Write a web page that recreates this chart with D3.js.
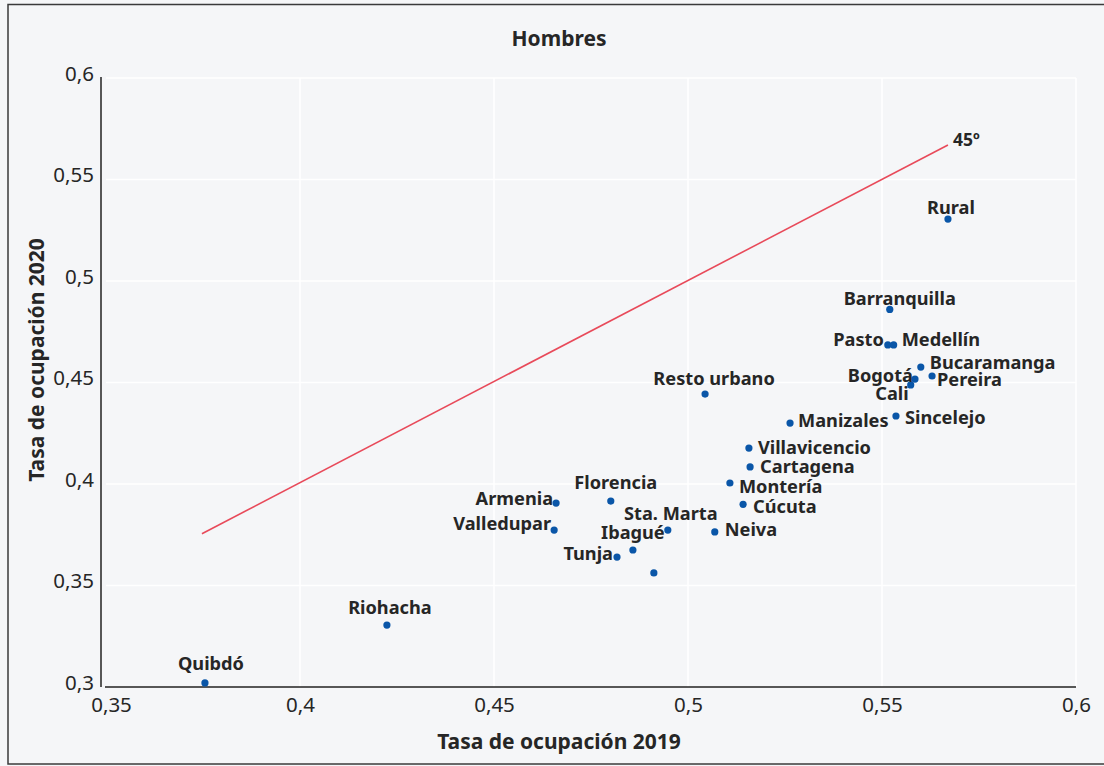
<!DOCTYPE html>
<html lang="es">
<head>
<meta charset="utf-8">
<script src="https://cdn.jsdelivr.net/npm/d3@7"></script>
<style>
  html, body { margin: 0; padding: 0; background: #f5f6f8; }
  svg { display: block; font-family: "Noto Sans", "Open Sans", sans-serif; }
</style>
</head>
<body>
<svg id="chart" width="1104" height="766"></svg>
<script>
// Ciudades y tasas de ocupación de hombres, 2019 vs 2020
const cities = ["Rural", "Barranquilla", "Pasto", "Medellín", "Bucaramanga", "Bogotá", "Cali",
  "Pereira", "Sincelejo", "Manizales", "Resto urbano", "Villavicencio", "Cartagena", "Montería",
  "Cúcuta", "Neiva", "Sta. Marta", "Ibagué", "Tunja", "", "Florencia", "Armenia", "Valledupar",
  "Riohacha", "Quibdó"];
const rate2019 = [0.567, 0.552, 0.5515, 0.553, 0.560, 0.5585, 0.5574,
  0.5629, 0.5536, 0.5263, 0.5044, 0.5157, 0.516, 0.5108,
  0.5142, 0.5069, 0.4948, 0.4858, 0.4817, 0.4912, 0.4801, 0.466, 0.4655,
  0.4224, 0.3755];
const rate2020 = [0.5305, 0.486, 0.4685, 0.4685, 0.4576, 0.4517, 0.4488,
  0.4532, 0.4335, 0.430, 0.4443, 0.4177, 0.4084, 0.4005,
  0.390, 0.3764, 0.3773, 0.3675, 0.364, 0.3562, 0.3916, 0.3906, 0.3773,
  0.3305, 0.302];

const xTicks = [0.35, 0.4, 0.45, 0.5, 0.55, 0.6];
const yTicks = [0.3, 0.35, 0.4, 0.45, 0.5, 0.55, 0.6];
const xTickLabels = ["0,35", "0,4", "0,45", "0,5", "0,55", "0,6"];
const yTickLabels = ["0,3", "0,35", "0,4", "0,45", "0,5", "0,55", "0,6"];

const titleText = "Hombres";
const xTitle = "Tasa de ocupación 2019";
const yTitle = "Tasa de ocupación 2020";
const diagonalLabel = "45º";

// Label placement per city: [anchor, dx, dy] relative to the marker
const labelLayout = [
  ["middle", 3, -12], ["middle", 10, -11], ["end", -4, -6], ["start", 8, -6],
  ["start", 9, -5], ["end", -2, -4], ["end", -2, 8], ["start", 5, 3],
  ["start", 9, 1], ["start", 8, -3], ["middle", 9, -16], ["start", 9, -1],
  ["start", 10, -1], ["start", 9, 3], ["start", 10, 2], ["start", 10, -3],
  ["middle", 3, -17], ["middle", 0, -18], ["end", -4, -4], ["start", 0, 0],
  ["middle", 5, -19], ["end", -3, -5], ["end", -3, -7], ["middle", 3, -18],
  ["middle", 6, -20]
];

const svg = d3.select("#chart");
const textColor = "#262626";

// Outer frame
svg.append("rect")
  .attr("x", 8).attr("y", 4.5).attr("width", 1110).attr("height", 759.5)
  .attr("fill", "#f5f6f8").attr("stroke", "#3a3a3a").attr("stroke-width", 1.5);

const x = d3.scaleLinear().domain([0.35, 0.6]).range([106, 1076]);
const y = d3.scaleLinear().domain([0.3, 0.6]).range([687, 78]);

// Gridlines
const grid = svg.append("g").attr("stroke", "#ffffff").attr("stroke-width", 1.6);
grid.selectAll("line.v").data(xTicks.slice(1)).join("line")
  .attr("x1", d => x(d)).attr("x2", d => x(d))
  .attr("y1", y(0.6)).attr("y2", y(0.3));
grid.selectAll("line.h").data(yTicks.slice(1)).join("line")
  .attr("x1", x(0.35)).attr("x2", x(0.6))
  .attr("y1", d => y(d)).attr("y2", d => y(d));

// Axes
const xAxis = d3.axisBottom(x).tickValues(xTicks)
  .tickFormat((d, i) => xTickLabels[i]).tickSize(0).tickPadding(10);
const gx = svg.append("g").attr("transform", `translate(0,${y(0.3)})`).call(xAxis);
gx.select(".domain").remove();
gx.selectAll("text").attr("font-size", 20.5).attr("fill", textColor)
  .attr("font-family", "'Noto Sans', 'Open Sans', sans-serif")
  .attr("dx", (d, i) => i === 0 ? 5 : 0);

const yAxis = d3.axisLeft(y).tickValues(yTicks)
  .tickFormat((d, i) => yTickLabels[i]).tickSize(0).tickPadding(8);
const gy = svg.append("g").attr("transform", `translate(${x(0.35) - 4},0)`).call(yAxis);
gy.select(".domain").remove();
gy.selectAll("text").attr("font-size", 20.5).attr("fill", textColor)
  .attr("font-family", "'Noto Sans', 'Open Sans', sans-serif")
  .attr("dy", "0.12em");

// Axis lines
svg.append("line")
  .attr("x1", x(0.35) - 1).attr("x2", x(0.6))
  .attr("y1", y(0.3)).attr("y2", y(0.3))
  .attr("stroke", "#222").attr("stroke-width", 1.5);
svg.append("line")
  .attr("x1", x(0.35) - 5).attr("x2", x(0.35) - 5)
  .attr("y1", y(0.6) - 1).attr("y2", y(0.3))
  .attr("stroke", "#222").attr("stroke-width", 1.5);

// 45-degree reference line spanning the range of 2019 values
const xMin = d3.min(rate2019), xMax = d3.max(rate2019);
svg.append("line")
  .attr("x1", x(xMin) - 3).attr("y1", y(xMin))
  .attr("x2", x(xMax)).attr("y2", y(xMax))
  .attr("stroke", "#e84a5a").attr("stroke-width", 1.6);
svg.append("text")
  .attr("x", x(xMax) + 5).attr("y", y(xMax) - 6)
  .attr("font-size", 17.5).attr("font-weight", 700).attr("fill", textColor)
  .attr("dominant-baseline", "central")
  .text(diagonalLabel);

// Points
const pts = cities.map((c, i) => ({ c, x: rate2019[i], y: rate2020[i], l: labelLayout[i] }));
svg.append("g").selectAll("circle").data(pts).join("circle")
  .attr("cx", d => x(d.x)).attr("cy", d => y(d.y)).attr("r", 3.6)
  .attr("fill", "#0a56a8");

// City labels
svg.append("g").selectAll("text").data(pts.filter(d => d.c)).join("text")
  .attr("x", d => x(d.x) + d.l[1])
  .attr("y", d => y(d.y) + d.l[2])
  .attr("text-anchor", d => d.l[0])
  .attr("dominant-baseline", "central")
  .attr("font-size", 18.2).attr("font-weight", 700).attr("fill", textColor)
  .text(d => d.c);

// Titles
svg.append("text")
  .attr("x", 559).attr("y", 38).attr("text-anchor", "middle")
  .attr("dominant-baseline", "central")
  .attr("font-size", 21).attr("font-weight", 700).attr("fill", textColor)
  .text(titleText);
svg.append("text")
  .attr("x", 559).attr("y", 741).attr("text-anchor", "middle")
  .attr("dominant-baseline", "central")
  .attr("font-size", 21).attr("font-weight", 700).attr("fill", textColor)
  .text(xTitle);
svg.append("text")
  .attr("transform", "translate(36,360) rotate(-90)")
  .attr("text-anchor", "middle").attr("dominant-baseline", "central")
  .attr("font-size", 21).attr("font-weight", 700).attr("fill", textColor)
  .text(yTitle);
</script>
</body>
</html>
